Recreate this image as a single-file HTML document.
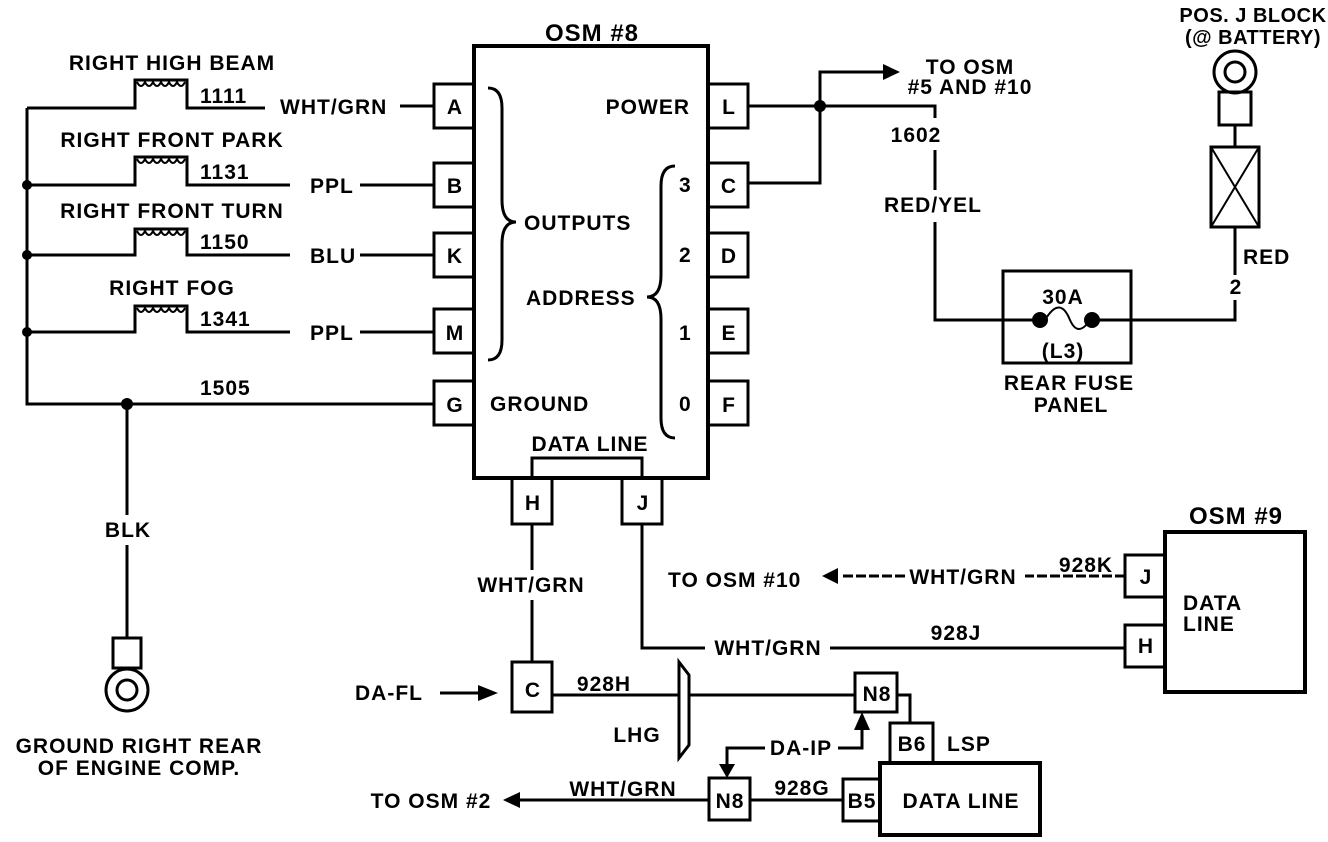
<!DOCTYPE html>
<html><head><meta charset="utf-8"><style>
html,body{margin:0;padding:0;background:#fff;}
svg{display:block;}
text{font-family:"Liberation Sans",sans-serif;font-weight:bold;font-size:21px;letter-spacing:1px;fill:#000;}
.m{text-anchor:middle;}
.e{text-anchor:end;}
</style></head><body>
<svg width="1328" height="842" viewBox="0 0 1328 842" xmlns="http://www.w3.org/2000/svg">
<g fill="none" stroke="#000" stroke-width="3">
<rect x="474" y="46" width="234" height="432" stroke-width="4"/>
<rect x="434" y="84" width="40" height="44"/>
<rect x="434" y="163" width="40" height="44"/>
<rect x="434" y="233" width="40" height="44"/>
<rect x="434" y="309" width="40" height="44"/>
<rect x="434" y="381" width="40" height="44"/>
<rect x="708" y="84" width="40" height="44"/>
<rect x="708" y="163" width="40" height="44"/>
<rect x="708" y="233" width="40" height="44"/>
<rect x="708" y="309" width="40" height="44"/>
<rect x="708" y="381" width="40" height="44"/>
<rect x="512" y="478" width="40" height="46"/>
<rect x="622" y="478" width="40" height="46"/>
<path d="M27 108 V404 H434"/>
<path d="M27 108 H135 V80 H187 V108 H265 M400 106 H434"/>
<path d="M27 185 H135 V157 H187 V185 H290 M360 185 H434" />
<path d="M27 255 H135 V229 H187 V255 H290 M360 255 H434"/>
<path d="M27 332 H135 V306 H187 V332 H290 M360 332 H434"/>
<path d="M137 82 q4 8 8 0 q4 8 8 0 q4 8 8 0 q4 8 8 0 q4 8 8 0 q4 8 8 0" stroke-width="2"/>
<path d="M137 159 q4 8 8 0 q4 8 8 0 q4 8 8 0 q4 8 8 0 q4 8 8 0 q4 8 8 0" stroke-width="2"/>
<path d="M137 231 q4 8 8 0 q4 8 8 0 q4 8 8 0 q4 8 8 0 q4 8 8 0 q4 8 8 0" stroke-width="2"/>
<path d="M137 308 q4 8 8 0 q4 8 8 0 q4 8 8 0 q4 8 8 0 q4 8 8 0 q4 8 8 0" stroke-width="2"/>
<path d="M127 404 V515 M127 545 V638"/>
<rect x="113" y="638" width="28" height="30"/>
<circle cx="127" cy="690" r="21"/>
<circle cx="127" cy="690" r="10"/>
<path d="M488 88 q14 0 14 20 V200 q0 22 14 22 q-14 0 -14 22 V340 q0 20 -14 20"/>
<path d="M675 166 q-14 0 -14 20 V275 q0 22 -14 22 q14 0 14 22 V418 q0 20 14 20"/>
<path d="M532 478 V458 H642 V478"/>
<path d="M748 106 H935 V118 M935 150 V190 M935 222 V320 H1040"/>
<path d="M748 183 H820 V72 H885"/>
<path d="M1092 320 H1235 V300 M1235 275 V227"/>
<rect x="1003" y="271" width="128" height="92"/>
<path d="M1045 320 q15 -25 25 0 q8 18 20 0" stroke-width="2"/>
<circle cx="1235" cy="72" r="21"/>
<circle cx="1235" cy="72" r="10"/>
<rect x="1219" y="92" width="32" height="33"/>
<path d="M1235 125 V147"/>
<rect x="1211" y="147" width="48" height="80"/>
<path d="M1211 147 L1259 227 M1259 147 L1211 227" stroke-width="2"/>
<path d="M532 524 V570 M532 600 V662"/>
<path d="M642 524 V648 H705 M830 648 H1125"/>
<path d="M1125 576 H1025 M905 576 H840" stroke-dasharray="10 3"/>
<rect x="1165" y="532" width="140" height="160" stroke-width="4"/>
<rect x="1125" y="555" width="40" height="42"/>
<rect x="1125" y="625" width="40" height="42"/>
<rect x="512" y="662" width="40" height="50"/>
<path d="M440 693 H490"/>
<path d="M552 695 H855"/>
<path d="M679 662 L689 675 V745 L679 758 Z" fill="#fff"/>
<rect x="855" y="673" width="42" height="39"/>
<path d="M897 695 H910 V723"/>
<rect x="890" y="723" width="43" height="40"/>
<rect x="880" y="763" width="160" height="72" stroke-width="4"/>
<rect x="843" y="779" width="37" height="42"/>
<rect x="709" y="778" width="41" height="42"/>
<path d="M750 800 H843"/>
<path d="M838 748 H862 V728"/>
<path d="M765 748 H727 V768"/>
<path d="M520 800 H709"/>
</g>
<g fill="#000">
<circle cx="27" cy="185" r="5"/><circle cx="27" cy="255" r="5"/><circle cx="27" cy="332" r="5"/>
<circle cx="127" cy="404" r="6"/><circle cx="820" cy="106" r="6"/>
<circle cx="1040" cy="320" r="8"/><circle cx="1092" cy="320" r="8"/>
<polygon points="883,64 900,72 883,80"/>
<polygon points="838,568 822,576 838,584"/>
<polygon points="478,685 498,693 478,701"/>
<polygon points="854,730 862,712 870,730"/>
<polygon points="719,764 727,778 735,764"/>
<polygon points="520,792 503,800 520,808"/>
</g>
<g>
<text class="m" x="592" y="41" style="font-size:24px">OSM #8</text>
<text class="m" x="172" y="70">RIGHT HIGH BEAM</text>
<text x="200" y="103">1111</text>
<text x="280" y="114">WHT/GRN</text>
<text class="m" x="172" y="147">RIGHT FRONT PARK</text>
<text x="200" y="179">1131</text>
<text x="310" y="193">PPL</text>
<text class="m" x="172" y="218">RIGHT FRONT TURN</text>
<text x="200" y="249">1150</text>
<text x="310" y="263">BLU</text>
<text class="m" x="172" y="295">RIGHT FOG</text>
<text x="200" y="326">1341</text>
<text x="310" y="340">PPL</text>
<text x="200" y="395">1505</text>
<text class="m" x="455" y="114">A</text><text class="m" x="455" y="193">B</text><text class="m" x="455" y="263">K</text><text class="m" x="455" y="340">M</text><text class="m" x="455" y="412">G</text>
<text class="m" x="729" y="114">L</text><text class="m" x="729" y="193">C</text><text class="m" x="729" y="263">D</text><text class="m" x="729" y="340">E</text><text class="m" x="729" y="412">F</text>
<text class="e" x="690" y="114">POWER</text>
<text x="524" y="230">OUTPUTS</text>
<text x="526" y="305">ADDRESS</text>
<text x="490" y="411">GROUND</text>
<text x="679" y="192">3</text><text x="679" y="262">2</text><text x="679" y="340">1</text><text x="679" y="411">0</text>
<text class="m" x="590" y="451">DATA LINE</text>
<text class="m" x="533" y="510">H</text><text class="m" x="643" y="510">J</text>
<text class="m" x="970" y="74">TO OSM</text>
<text class="m" x="970" y="94">#5 AND #10</text>
<text class="m" x="916" y="142">1602</text>
<text class="m" x="933" y="212">RED/YEL</text>
<text class="m" x="1063" y="304">30A</text>
<text class="m" x="1063" y="358">(L3)</text>
<text class="m" x="1069" y="390">REAR FUSE</text>
<text class="m" x="1071" y="412">PANEL</text>
<text class="m" x="1253" y="22" style="font-size:20px;letter-spacing:0.5px">POS. J BLOCK</text>
<text class="m" x="1253" y="44" style="font-size:20px;letter-spacing:0.5px">(@ BATTERY)</text>
<text x="1243" y="264">RED</text>
<text class="m" x="1236" y="294">2</text>
<text class="m" x="128" y="537">BLK</text>
<text class="m" x="139" y="753">GROUND RIGHT REAR</text>
<text class="m" x="139" y="775">OF ENGINE COMP.</text>
<text class="m" x="531" y="592">WHT/GRN</text>
<text class="m" x="1236" y="524" style="font-size:24px">OSM #9</text>
<text x="668" y="587">TO OSM #10</text>
<text class="m" x="963" y="584">WHT/GRN</text>
<text class="m" x="1086" y="572">928K</text>
<text class="m" x="1146" y="584">J</text>
<text x="1183" y="610">DATA</text>
<text x="1183" y="631">LINE</text>
<text class="m" x="768" y="655">WHT/GRN</text>
<text class="m" x="956" y="640">928J</text>
<text class="m" x="1146" y="653">H</text>
<text x="355" y="700">DA-FL</text>
<text class="m" x="533" y="697">C</text>
<text class="m" x="604" y="691">928H</text>
<text class="m" x="637" y="742">LHG</text>
<text class="m" x="877" y="701">N8</text>
<text class="m" x="912" y="751">B6</text>
<text x="947" y="751">LSP</text>
<text class="m" x="801" y="755">DA-IP</text>
<text class="m" x="730" y="808">N8</text>
<text class="m" x="802" y="795">928G</text>
<text class="m" x="862" y="808">B5</text>
<text class="m" x="961" y="808">DATA LINE</text>
<text class="m" x="431" y="808">TO OSM #2</text>
<text class="m" x="623" y="796">WHT/GRN</text>
</g>
</svg>
</body></html>
